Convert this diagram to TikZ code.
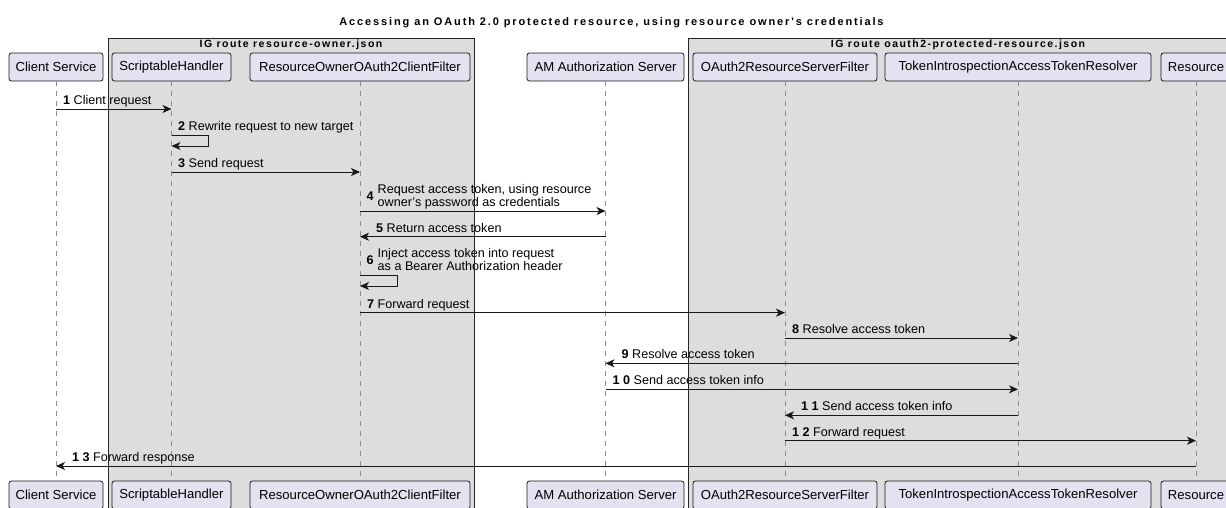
\documentclass[tikz,border=0pt]{standalone}
\usepackage{fontspec}
\setmainfont{Liberation Sans}
\newfontfamily\titlefont[LetterSpace=17]{Liberation Sans}
\newfontfamily\grpfont[LetterSpace=14]{Liberation Sans}
\usetikzlibrary{arrows.meta}
\definecolor{pfill}{HTML}{E2E2F0}
\definecolor{pline}{HTML}{181818}
\definecolor{gfill}{HTML}{DDDDDD}
\definecolor{lline}{HTML}{8C8C8C}
\begin{document}
\begin{tikzpicture}[x=1pt,y=-1pt,
  part/.style={draw=pline, fill=pfill, rounded corners=2.5pt, line width=0.8pt, minimum height=28pt, inner sep=0pt, font=\fontsize{13.1}{15}\selectfont},
  grpfill/.style={fill=gfill},
  grpborder/.style={draw=black!85, line width=0.8pt},
  life/.style={draw=lline, line width=0.8pt, dash pattern=on 5pt off 5pt},
  msg/.style={draw=pline, line width=0.9pt, -{Stealth[length=9pt,width=8pt,inset=2.5pt]}},
  lbl/.style={anchor=base west, inner sep=0pt, font=\fontsize{12.6}{12.7}\selectfont, align=left},
  num/.style={anchor=base west, inner sep=0pt, font=\fontsize{12.6}{13}\selectfont\bfseries},
  grptitle/.style={anchor=base, inner sep=0pt, font=\fontsize{10.5}{12}\grpfont\bfseries},
]
\useasboundingbox (0,0) rectangle (1226,507);
\clip (0,0) rectangle (1226,507);

% group backgrounds
\fill[grpfill] (108,38) rectangle (474,515);
\fill[grpfill] (688,38) rectangle (1240,515);

% title
\node[anchor=base, inner sep=0pt, font=\fontsize{11}{13}\titlefont\bfseries] (title) at (611.5,25)
  {Accessing an OAuth 2.0 protected resource, using resource owner's credentials};

% participants (top)
\node[part, minimum width=94pt]  (cs)  at (56,67)   {Client Service};
\node[part, minimum width=119pt] (sh)  at (171.5,67) {ScriptableHandler};
\node[part, minimum width=220pt] (ro)  at (360,67)  {ResourceOwnerOAuth2ClientFilter};
\node[part, minimum width=157pt] (am)  at (605.5,67) {AM Authorization Server};
\node[part, minimum width=184pt] (rs)  at (785,67)  {OAuth2ResourceServerFilter};
\node[part, minimum width=266pt] (ti)  at (1018,67) {TokenIntrospectionAccessTokenResolver};
\node[part, minimum width=70pt]  (res) at (1196,67) {Resource};
% participants (bottom)
\node[part, minimum width=94pt]  (csb)  at (56,495)   {Client Service};
\node[part, minimum width=119pt] (shb)  at (171.5,495) {ScriptableHandler};
\node[part, minimum width=220pt] (rob)  at (360,495)  {ResourceOwnerOAuth2ClientFilter};
\node[part, minimum width=157pt] (amb)  at (605.5,495) {AM Authorization Server};
\node[part, minimum width=184pt] (rsb)  at (785,495)  {OAuth2ResourceServerFilter};
\node[part, minimum width=266pt] (tib)  at (1018,495) {TokenIntrospectionAccessTokenResolver};
\node[part, minimum width=70pt]  (resb) at (1196,495) {Resource};

% lifelines
\foreach \p in {cs,sh,ro,am,rs,ti,res}{
  \draw[life] (\p.south) -- (\p b.north);
}

% messages
\draw[msg] (cs |- 0,109) -- (sh |- 0,109);
\node[lbl] (l1) at (63,104.5) {\textbf{1} Client request};

\draw[msg] (sh |- 0,135) -- ++(37,0) -- ++(0,11) -- (sh |- 0,146);
\node[lbl] (l2) at (178,130.5) {\textbf{2} Rewrite request to new target};

\draw[msg] (sh |- 0,172) -- (ro |- 0,172);
\node[lbl] (l3) at (178,167.5) {\textbf{3} Send request};

\draw[msg] (ro |- 0,211) -- (am |- 0,211);
\node[num] (n4) at (366.5,200) {4};
\node[lbl] (l4) at (377.5,206.3) {Request access token, using resource\\owner's password as credentials};

\draw[msg] (am |- 0,236.7) -- (ro |- 0,236.7);
\node[lbl] (l5) at (376,232.2) {\textbf{5} Return access token};

\draw[msg] (ro |- 0,275) -- ++(37,0) -- ++(0,11) -- (ro |- 0,286);
\node[num] (n6) at (366.5,264) {6};
\node[lbl] (l6) at (377.5,270.3) {Inject access token into request\\as a Bearer Authorization header};

\draw[msg] (ro |- 0,312.7) -- (rs |- 0,312.7);
\node[lbl] (l7) at (367,308.2) {\textbf{7} Forward request};

\draw[msg] (rs |- 0,338) -- (ti |- 0,338);
\node[lbl] (l8) at (792,333.5) {\textbf{8} Resolve access token};

\draw[msg] (ti |- 0,363.3) -- (am |- 0,363.3);
\node[lbl] (l9) at (621.5,358.8) {\textbf{9} Resolve access token};

\draw[msg] (am |- 0,389.3) -- (ti |- 0,389.3);
\node[lbl] (l10) at (612.5,384.8) {\textbf{1 0} Send access token info};

\draw[msg] (ti |- 0,415.3) -- (rs |- 0,415.3);
\node[lbl] (l11) at (801,410.8) {\textbf{1 1} Send access token info};

\draw[msg] (rs |- 0,440.7) -- (res |- 0,440.7);
\node[lbl] (l12) at (792,436.2) {\textbf{1 2} Forward request};

\draw[msg] (res |- 0,466) -- (cs |- 0,466);
\node[lbl] (l13) at (72,461.5) {\textbf{1 3} Forward response};

% group borders and titles
\draw[grpborder] (108,38) rectangle (474,515);
\draw[grpborder] (688,38) rectangle (1240,515);
\node[grptitle] (g1) at (291,47.5) {IG route resource-owner.json};
\node[grptitle] (g2) at (958,47.5) {IG route oauth2-protected-resource.json};
\end{tikzpicture}
\end{document}
